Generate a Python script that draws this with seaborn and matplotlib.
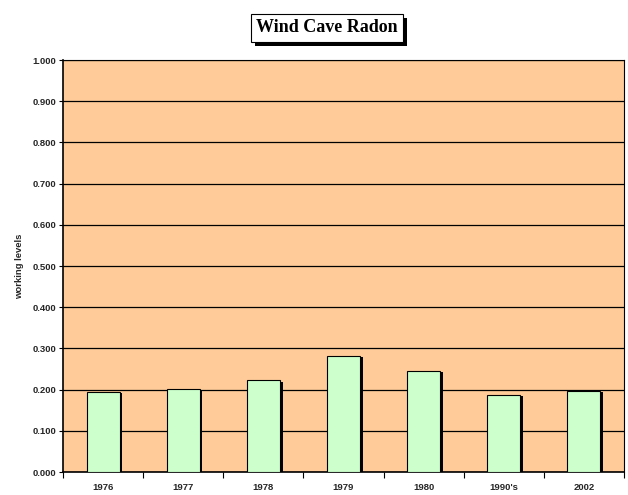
import matplotlib
matplotlib.use("Agg")
import matplotlib.pyplot as plt
import matplotlib.patheffects as pe
import seaborn as sns
import pandas as pd
import numpy as np

categories = ["1976", "1977", "1978", "1979", "1980", "1990's", "2002"]
values = [0.194, 0.202, 0.223, 0.282, 0.246, 0.187, 0.197]
yticks = [0.0, 0.1, 0.2, 0.3, 0.4, 0.5, 0.6, 0.7, 0.8, 0.9, 1.0]

df = pd.DataFrame({"year": categories, "level": values})

sns.set_style("white")
plt.rcParams['font.family'] = ['Liberation Sans', 'DejaVu Sans']

fig = plt.figure(figsize=(6.28, 4.95), dpi=100)
ax = fig.add_axes([63/628, 23/495, 561/628, 412/495])
ax.set_facecolor("#FFCC99")

sns.barplot(data=df, x="year", y="level", ax=ax, color="#CCFFCC",
            saturation=1, width=0.41, edgecolor="black", linewidth=0.8,
            zorder=3)
for p in ax.patches:
    p.set_path_effects([pe.SimplePatchShadow(offset=(2, -1), shadow_rgbFace="black", alpha=1.0),
                        pe.Normal()])

ax.set_ylim(0, 1.0)
ax.set_xlim(-0.5, len(categories) - 0.5)
ax.set_yticks(yticks)
ax.set_yticklabels([f"{v:.3f}" for v in yticks], fontsize=6.8, fontweight="bold")
ax.yaxis.grid(True, color="black", linewidth=0.9, zorder=1)
ax.set_axisbelow(True)

ax.set_xticks(range(len(categories)))
ax.set_xticklabels(categories, fontsize=6.8, fontweight="bold")
ax.tick_params(axis="x", which="major", length=0, pad=8, bottom=True)
ax.set_xticks(np.arange(-0.5, len(categories), 1.0), minor=True)
ax.tick_params(axis="x", which="minor", length=4, width=0.8, color="black",
               direction="out", bottom=True)
ax.tick_params(axis="y", which="major", length=3, width=0.8, color="black",
               direction="out", pad=2, left=True)

for s in ["left", "bottom"]:
    ax.spines[s].set_color("black")
    ax.spines[s].set_linewidth(1.2)
ax.spines["right"].set_color("black")
ax.spines["right"].set_linewidth(0.8)
ax.spines["top"].set_color("black")
ax.spines["top"].set_linewidth(0.8)

ax.set_xlabel("")
ax.set_ylabel("working levels", fontsize=6.8, fontweight="bold", labelpad=6)

# title with box shadow
t = fig.text(327/628, 1 - 28/495, "Wind Cave Radon", ha="center", va="center",
             fontsize=13, fontweight="bold", family="Liberation Serif", color="black",
             bbox=dict(boxstyle="square,pad=0.3", facecolor="white", edgecolor="black", linewidth=0.8))
t.get_bbox_patch().set_path_effects([
    pe.SimplePatchShadow(offset=(3, -3), shadow_rgbFace="black", alpha=1.0),
    pe.Normal()])

fig.savefig("out.png", dpi=100)
